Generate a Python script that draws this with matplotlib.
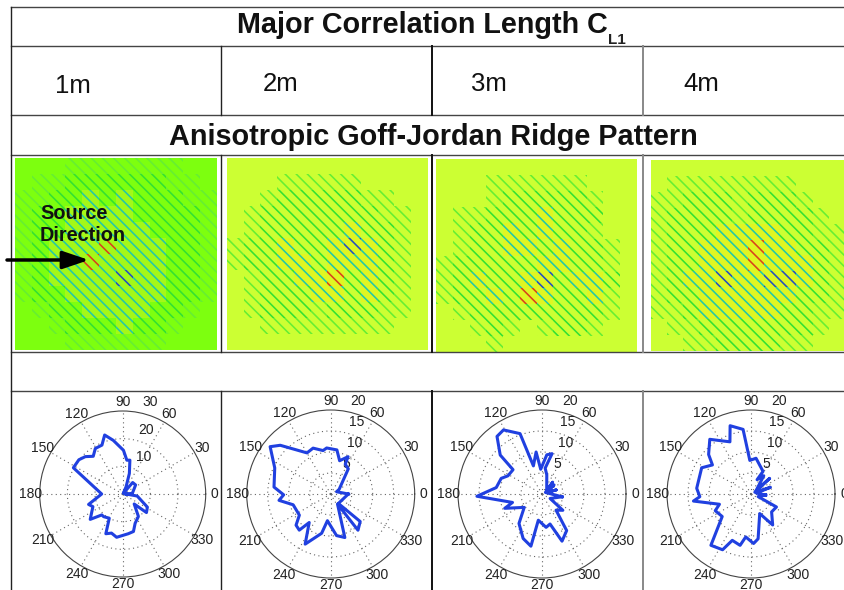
import numpy as np
import matplotlib
matplotlib.use("Agg")
import matplotlib.pyplot as plt
from matplotlib.patches import Rectangle

plt.rcParams['font.family'] = ['Liberation Sans', 'DejaVu Sans']
plt.rcParams['hatch.linewidth'] = 1.15

lengths = ["1m", "2m", "3m", "4m"]
title_top = "Major Correlation Length C"
title_mid = "Anisotropic Goff-Jordan Ridge Pattern"

# polar curves, angle in degrees and amplitude
theta1 = [0, 352, 332, 322, 319, 305, 293, 286, 278, 262, 254, 247, 241, 230, 225, 218, 203, 197, 180, 152, 142, 135, 128, 121, 113, 107, 100, 89, 83, 78, 72, 65, 45, 49, 35, 4, 0]
r1 = [1.2, 5.3, 10.1, 10.9, 5.5, 9.9, 11.5, 14.1, 14.5, 15.8, 14.7, 15.6, 10, 10.7, 10.7, 14.9, 11.7, 12.9, 7.6, 20.2, 20.1, 19.1, 17.3, 19.2, 19.2, 22.3, 19.7, 15.8, 12.3, 12.5, 7.8, 2.9, 0.3, 5.5, 5.7, 3.5, 1.2]
theta2 = [0, 21, 29, 55, 64, 65, 75, 82, 95, 100, 111, 120, 136, 142, 155, 173, 181, 187, 196, 214, 222, 229, 233, 243, 257, 263, 278, 288, 304, 307, 317, 309, 0]
r2 = [4.2, 1.5, 2.3, 7.3, 7.9, 9.8, 8.2, 10.6, 11, 10.5, 11.7, 11.3, 16.7, 18.3, 14.7, 13.6, 11.2, 12.4, 9.3, 9, 11.1, 11.4, 8.5, 13.4, 9.6, 6.4, 10, 10.9, 2.9, 10.8, 9.6, 2.9, 4.2]
theta3 = [352, 20, 16, 20, 37, 25, 48, 30, 76, 83, 76, 83, 93, 98, 107, 110, 121, 128, 137, 140, 152, 159, 172, 182, 196, 201, 217, 232, 247, 258, 262, 277, 285, 293, 304, 311, 322, 331, 352]
r3 = [4.8, 1, 3.5, 1, 3.6, 1, 3.8, 1.3, 4.7, 6.2, 9.9, 9.4, 5.9, 10.1, 7, 15.3, 17.8, 17.4, 13.6, 9, 9.2, 10.4, 11, 15.5, 7.3, 9.5, 5.3, 8.9, 11.5, 12.7, 6.3, 8, 7.4, 12.2, 10.5, 5.1, 6.3, 2.2, 4.8]
theta4 = [356, 10, 19, 25, 40, 35, 55, 67, 62, 82, 92, 97, 107, 112, 127, 137, 143, 152, 174, 183, 187, 198, 205, 218, 232, 243, 248, 258, 263, 273, 279, 294, 305, 319, 333, 340, 356]
r4 = [3.5, 1.3, 4.9, 1, 5.8, 1.5, 5.3, 3.7, 6.1, 8.6, 8, 15.5, 17, 13.4, 16.3, 13.8, 11.5, 13.3, 13, 12.2, 13.8, 7.9, 9.4, 8.7, 15.5, 14.9, 11.9, 12.5, 10.3, 11.8, 10.8, 5.1, 9, 6.5, 6.8, 1.8, 3.5]
rmax = [30, 20, 20, 20]
rticks = [[10, 20, 30], [5, 10, 15, 20], [5, 10, 15, 20], [5, 10, 15, 20]]

# stripe strength per block of the images: 0 none, 5 faint, 1 green, 2 teal, 3 red, 4 blue
field1 = [
    [0, 0, 0, 5, 5, 5, 5, 5, 5, 5, 0, 0],
    [0, 5, 5, 1, 1, 1, 1, 1, 1, 5, 5, 0],
    [5, 5, 1, 1, 2, 1, 2, 1, 1, 1, 5, 5],
    [5, 1, 1, 2, 2, 2, 2, 1, 1, 1, 1, 5],
    [5, 1, 1, 2, 2, 2, 2, 2, 1, 1, 1, 5],
    [5, 1, 2, 2, 2, 3, 2, 2, 2, 1, 1, 5],
    [5, 1, 2, 2, 3, 2, 2, 2, 2, 1, 1, 5],
    [5, 1, 2, 2, 2, 2, 4, 2, 2, 1, 1, 5],
    [5, 1, 1, 2, 2, 2, 2, 2, 2, 1, 1, 5],
    [0, 5, 1, 1, 2, 2, 2, 2, 1, 1, 5, 0],
    [0, 0, 5, 1, 1, 1, 2, 1, 1, 5, 0, 0],
    [0, 0, 0, 5, 5, 5, 5, 5, 5, 0, 0, 0],
]
field2 = [
    [0, 0, 0, 0, 0, 0, 0, 0, 0, 0, 0, 0],
    [0, 0, 0, 5, 5, 5, 5, 5, 0, 0, 0, 0],
    [0, 0, 5, 1, 1, 1, 1, 1, 5, 5, 0, 0],
    [0, 5, 1, 1, 1, 1, 1, 1, 1, 5, 5, 0],
    [0, 5, 1, 1, 1, 1, 1, 2, 1, 1, 5, 0],
    [5, 1, 1, 2, 1, 1, 2, 4, 2, 1, 5, 0],
    [5, 1, 1, 2, 2, 1, 2, 2, 2, 1, 5, 0],
    [0, 5, 1, 1, 2, 2, 3, 1, 2, 1, 5, 0],
    [0, 5, 1, 1, 1, 2, 2, 1, 2, 1, 5, 0],
    [0, 5, 1, 1, 1, 5, 1, 1, 1, 5, 5, 0],
    [0, 0, 5, 5, 5, 5, 5, 5, 5, 5, 0, 0],
    [0, 0, 0, 0, 0, 0, 0, 0, 0, 0, 0, 0],
]
field3 = [
    [0, 0, 0, 0, 0, 0, 0, 0, 0, 0, 0, 0],
    [0, 0, 0, 5, 5, 5, 5, 5, 5, 0, 0, 0],
    [0, 0, 0, 5, 1, 1, 1, 1, 1, 5, 0, 0],
    [0, 5, 5, 1, 1, 1, 2, 1, 1, 1, 0, 0],
    [0, 5, 1, 1, 2, 1, 2, 1, 1, 5, 0, 0],
    [0, 5, 1, 1, 2, 2, 1, 2, 1, 1, 5, 0],
    [5, 1, 1, 1, 1, 1, 2, 2, 1, 1, 5, 0],
    [5, 1, 2, 1, 1, 2, 4, 1, 2, 2, 1, 0],
    [5, 1, 1, 2, 1, 3, 2, 1, 1, 2, 5, 0],
    [0, 5, 1, 1, 1, 1, 1, 1, 1, 1, 5, 0],
    [0, 0, 5, 1, 5, 0, 5, 1, 1, 5, 0, 0],
    [0, 0, 0, 5, 0, 0, 0, 0, 0, 0, 0, 0],
]
field4 = [
    [0, 0, 0, 0, 0, 0, 0, 0, 0, 0, 0, 0],
    [0, 5, 5, 5, 5, 5, 5, 5, 5, 0, 0, 0],
    [5, 5, 1, 1, 1, 5, 1, 1, 1, 5, 0, 0],
    [5, 1, 1, 1, 1, 5, 1, 1, 1, 1, 5, 0],
    [5, 1, 1, 1, 2, 2, 2, 2, 1, 1, 5, 5],
    [5, 1, 1, 2, 2, 2, 3, 2, 2, 1, 1, 5],
    [5, 1, 1, 2, 2, 2, 3, 2, 2, 2, 1, 5],
    [5, 1, 2, 2, 4, 2, 2, 4, 4, 2, 1, 5],
    [5, 1, 1, 2, 2, 2, 2, 2, 2, 1, 1, 5],
    [5, 5, 1, 2, 2, 2, 2, 2, 1, 1, 5, 5],
    [0, 5, 5, 1, 1, 1, 1, 1, 1, 1, 5, 0],
    [0, 0, 5, 5, 1, 1, 1, 1, 5, 5, 0, 0],
]

thetas = [theta1, theta2, theta3, theta4]
rs = [r1, r2, r3, r4]
fields = [field1, field2, field3, field4]
stripe_colors = {1: "#33e033", 2: "#22c8a8", 3: "#d8421c", 4: "#2250c0", 5: "#66ee33"}
base_colors = ["#7dff0f", "#ccff33", "#ccff33", "#ccff33"]
tint_colors = ["#a4f818", "#e0f622", "#e0f622", "#e0f622"]
image_boxes = [(15, 158, 217, 350), (227, 158, 428, 350), (436, 159, 637, 352), (651, 160, 845, 351)]
polar_centers = [122.7, 330.7, 542, 751]
polar_radius = [83, 84, 84, 84]
rlabel_pos = [[(61, 15.4), (70, 24.7), (73.5, 34.7)],
              [(63, 8), (65, 13.3), (70.5, 18.2), (73.3, 23)],
              [(63, 8), (65, 13.3), (70.5, 18.2), (73.3, 23)],
              [(63, 8), (65, 13.3), (70.5, 18.2), (73.3, 23)]]
W = 845
H = 590

fig = plt.figure(figsize=(W / 100, H / 100), dpi=100)


def box(x0, y0, x1, y1, **kw):
    return fig.add_axes([x0 / W, 1 - y1 / H, (x1 - x0) / W, (y1 - y0) / H], **kw)


for i in range(4):
    ax = box(*image_boxes[i])
    field = np.array(fields[i])
    ax.set_xlim(0, 12)
    ax.set_ylim(12, 0)
    ax.set_facecolor(base_colors[i])
    ax.set_xticks([])
    ax.set_yticks([])
    for s in ax.spines.values():
        s.set_visible(False)
    for row in range(12):
        for col in range(12):
            lev = field[row, col]
            if lev == 0:
                continue
            face = tint_colors[i] if lev in (2, 3, 4) else base_colors[i]
            ax.add_patch(Rectangle((col, row), 1, 1, facecolor=face, edgecolor=stripe_colors[lev],
                                   hatch='\\\\\\', linewidth=0))

for i in range(4):
    R = polar_radius[i]
    cx = polar_centers[i]
    ax = box(cx - R, 494 - R, cx + R, 494 + R, projection='polar')
    ax.set_facecolor('none')
    ax.plot(np.radians(thetas[i]), rs[i], color="#2040e0", linewidth=2.2, zorder=5)
    ax.set_ylim(0, rmax[i])
    ax.set_yticks(rticks[i][:-1] if rticks[i][-1] == rmax[i] else rticks[i])
    ax.set_yticklabels([])
    ax.set_thetagrids(np.arange(0, 360, 30), [""] * 12)
    ax.grid(True, linestyle=(0, (1, 3)), linewidth=0.8, color="#666666")
    ax.spines['polar'].set_linewidth(0.8)
    ax.spines['polar'].set_color("#444444")
    for a in range(0, 360, 30):
        frac = 1.08 if a == 270 else 1.108
        ax.text(np.radians(a), rmax[i] * frac, str(a), fontsize=10, color="#222222",
                ha='center', va='center', clip_on=False)
    for (ang, rr), tick in zip(rlabel_pos[i], rticks[i]):
        ax.text(np.radians(ang), rr, str(tick), fontsize=10, color="#222222",
                ha='center', va='center', clip_on=False)

# table rules, headings and the arrow sit on a full figure overlay in pixels
top = fig.add_axes([0, 0, 1, 1], zorder=10)
top.set_xlim(0, W)
top.set_ylim(H, 0)
top.axis('off')
top.patch.set_alpha(0)

for y in [6.5, 46, 115, 155, 352, 391]:
    top.plot([11, W], [y, y], color="#444444", linewidth=1)
top.plot([11, 11], [6.5, 590], color="#222222", linewidth=1)
for x, col, lw in [(221, "#222222", 1), (432, "#111111", 1.4), (643, "#888888", 1.4)]:
    top.plot([x, x], [46, 115], color=col, linewidth=lw)
    top.plot([x, x], [155, 352], color=col, linewidth=lw)
    top.plot([x, x], [391, 590], color=col, linewidth=lw)

top.text(237, 33, title_top, fontsize=20.7, fontweight='bold', color="#111111", ha='left', va='baseline')
top.text(608, 44, "L1", fontsize=11, fontweight='bold', color="#222222", ha='left', va='baseline')
top.text(169, 145, title_mid, fontsize=20.75, fontweight='bold', color="#111111", ha='left', va='baseline')

for x, y, lab in zip([55, 263, 471, 683], [93, 91, 91, 91], lengths):
    top.text(x, y, lab, fontsize=18.5, color="#111111", ha='left', va='baseline')

top.text(40, 219, "Source", fontsize=14.3, fontweight='bold', color="#111111", ha='left', va='baseline')
top.text(40, 241, "Direction", fontsize=14.3, fontweight='bold', color="#111111", ha='left', va='baseline')
top.annotate("", xy=(89, 260), xytext=(7, 260),
             arrowprops=dict(arrowstyle='-|>,head_length=1.6,head_width=0.54', color="black", linewidth=2.5, shrinkA=0, shrinkB=0))

fig.savefig("out.png", dpi=100)
